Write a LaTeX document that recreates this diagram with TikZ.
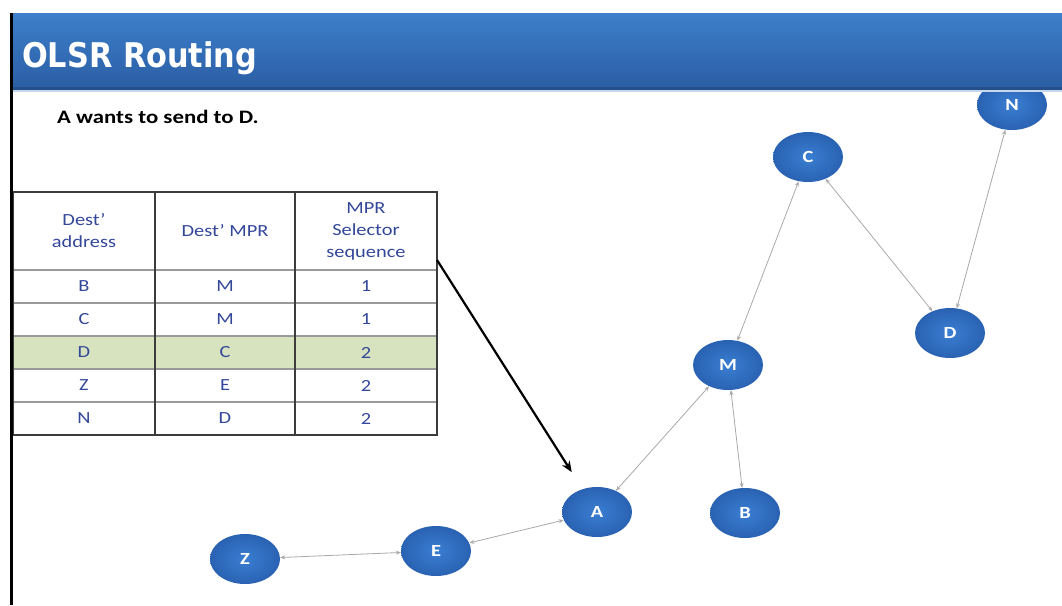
\documentclass[tikz,border=0pt]{standalone}
\usepackage{fontspec}
\setmainfont{Carlito}
\newfontfamily\calfont[FakeStretch=1.2]{Carlito}
\newfontfamily\titlefnt{DejaVu Sans}
\usetikzlibrary{shapes.geometric,arrows.meta}
\definecolor{hdrtop}{HTML}{3D7FCB}
\definecolor{hdrbot}{HTML}{2A5DA3}
\definecolor{nodeout}{HTML}{2A62B2}
\definecolor{nodein}{HTML}{3A7ED2}
\definecolor{tabtext}{HTML}{34489A}
\definecolor{rowgreen}{HTML}{D7E3BF}
\definecolor{edgegray}{HTML}{A9A9A9}
\definecolor{tabline}{HTML}{9A9A9A}
\definecolor{tabouter}{HTML}{3C3C3C}
\begin{document}
\begin{tikzpicture}[x=1pt,y=-1pt,
  netnode/.style={ellipse, minimum width=70pt, minimum height=50pt, inner sep=0pt,
    inner color=nodein, outer color=nodeout, text=white,
    font=\calfont\bfseries\fontsize{17}{17}\selectfont},
  link/.style={draw=edgegray, line width=0.8pt,
    {Stealth[length=5pt,width=4pt]}-{Stealth[length=5pt,width=4pt]}},
  cell/.style={text=tabtext, font=\calfont\fontsize{17}{22}\selectfont, align=center, inner sep=0pt},
  tabrule/.style={draw=tabline, line width=1.2pt},
  pointer/.style={draw=black, line width=2.2pt, -{Stealth[length=11pt,width=9pt]}},
]
\useasboundingbox (0,0) rectangle (1062,605);
\fill[white] (0,0) rectangle (1062,605);

% ---- table ----
\fill[rowgreen] (13,336) rectangle (437,369);
\foreach \yy in {270,303,336,369,402} \draw[tabrule] (13,\yy) -- (437,\yy);
\draw[tabouter, line width=1.4pt] (155,192) -- (155,435);
\draw[tabouter, line width=1.4pt] (295,192) -- (295,435);
\draw[tabouter, line width=2pt] (13,192) rectangle (437,435);

\node[cell] (h1) at (84,231) {Dest’\\address};
\node[cell] (h2) at (225,231) {Dest’ MPR};
\node[cell] (h3) at (366,231) {MPR\\Selector\\sequence};

\node[cell] (r1a) at (84,286.5) {B};  \node[cell] (r1b) at (225,286.5) {M}; \node[cell] (r1c) at (366,286.5) {1};
\node[cell] (r2a) at (84,319.5) {C};  \node[cell] (r2b) at (225,319.5) {M}; \node[cell] (r2c) at (366,319.5) {1};
\node[cell] (r3a) at (84,352.5) {D};  \node[cell] (r3b) at (225,352.5) {C}; \node[cell] (r3c) at (366,352.5) {2};
\node[cell] (r4a) at (84,385.5) {Z};  \node[cell] (r4b) at (225,385.5) {E}; \node[cell] (r4c) at (366,385.5) {2};
\node[cell] (r5a) at (84,418.5) {N};  \node[cell] (r5b) at (225,418.5) {D}; \node[cell] (r5c) at (366,418.5) {2};

% ---- network ----
\node[netnode] (N) at (1012,105) {N};
\node[netnode] (C) at (808,157) {C};
\node[netnode] (D) at (950,333) {D};
\node[netnode] (M) at (728,365) {M};
\node[netnode] (B) at (745,513) {B};
\node[netnode] (A) at (597,512) {A};
\node[netnode] (E) at (436,551) {E};
\node[netnode] (Z) at (245,559) {Z};

\draw[link] (Z) -- (E);
\draw[link] (E) -- (A);
\draw[link] (A) -- (M);
\draw[link] (M) -- (B);
\draw[link] (M) -- (C);
\draw[link] (C) -- (D);
\draw[link] (D) -- (N);

\coordinate (tabR) at (437,260);
\draw[pointer, shorten >=20pt] (tabR) -- (A);

% ---- header ----
\shade[top color=hdrtop, bottom color=hdrbot] (12,13) rectangle (1062,90);
\fill[hdrbot!85!black] (12,87) rectangle (1062,90);
\fill[hdrtop!30] (12,90) rectangle (1062,92);
\node[anchor=base west, inner sep=0pt, text=white] (title) at (22,67)
  {\resizebox{235pt}{\height}{\titlefnt\bfseries\fontsize{34}{34}\selectfont OLSR Routing}};
\node[anchor=base west, inner sep=0pt, font=\calfont\bfseries\fontsize{19}{19}\selectfont] (msg) at (57,123) {A wants to send to D.};

\draw[black, line width=3pt] (11.5,13) -- (11.5,605);
\end{tikzpicture}
\end{document}
